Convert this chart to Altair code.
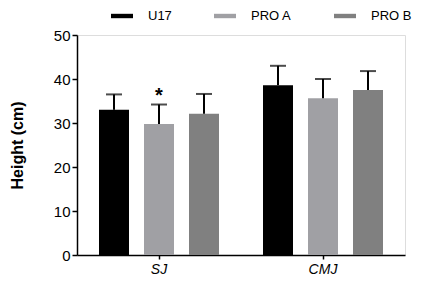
import altair as alt
import pandas as pd

groups = ["SJ", "CMJ"]
series = ["U17", "PRO A", "PRO B"]
colors = ["#000000", "#A0A0A4", "#808080"]
means_sj = [33.0, 29.8, 32.1]
sds_sj = [3.5, 4.4, 4.5]
means_cmj = [38.6, 35.6, 37.5]
sds_cmj = [4.4, 4.4, 4.3]
sig_group = ["SJ"]
sig_series = ["PRO A"]

rows = []
for g, ms, ss in [("SJ", means_sj, sds_sj), ("CMJ", means_cmj, sds_cmj)]:
    for s, m, sd in zip(series, ms, ss):
        rows.append({"group": g, "series": s, "mean": m, "top": m + sd})
df = pd.DataFrame(rows)
sig = df[df["group"].isin(sig_group) & df["series"].isin(sig_series)].copy()
sig["label"] = "*"

font = "Liberation Sans"

x = alt.X("group:N", sort=groups, title=None,
          scale=alt.Scale(paddingInner=0, paddingOuter=0),
          axis=alt.Axis(labelAngle=0, labelFontStyle="italic", labelFontSize=14,
                        labelFont=font, labelColor="#000000", tickSize=4,
                        tickColor="#000000", tickWidth=1.5, domainColor="#000000",
                        domainWidth=1.5, labelPadding=3))
xo = alt.XOffset("series:N", sort=series,
                 scale=alt.Scale(paddingInner=1/3, paddingOuter=0.489))

bars = alt.Chart(df).mark_bar().encode(
    x=x, xOffset=xo,
    y=alt.Y("mean:Q", scale=alt.Scale(domain=[0, 50], nice=False),
            axis=alt.Axis(values=[0, 10, 20, 30, 40, 50], title="Height (cm)",
                          titleFont=font, titleFontSize=16, titleFontWeight="bold",
                          titleColor="#000000", titleAngle=270, titleBaseline="middle",
                          titleAlign="center", titleX=-60, titleY=110,
                          labelFont=font, labelFontSize=15, labelColor="#000000",
                          tickSize=5, tickColor="#000000", tickWidth=1.5,
                          domainColor="#000000", domainWidth=1.5, labelPadding=2,
                          grid=False)),
    color=alt.Color("series:N", sort=series,
                    scale=alt.Scale(domain=series, range=colors),
                    legend=alt.Legend(title=None, orient="none", direction="horizontal",
                                      legendX=34, legendY=-30, padding=0,
                                      symbolType="M-1,-0.2H1V0.2H-1Z", symbolSize=484,
                                      symbolStrokeWidth=0, labelOffset=15,
                                      columnPadding=42, labelFont=font,
                                      labelFontSize=13, labelColor="#000000")),
)

stems = alt.Chart(df).mark_rule(color="#000000", strokeWidth=2).encode(
    x=x, xOffset=xo, y="mean:Q", y2="top:Q")
caps = alt.Chart(df).mark_tick(color="#000000", thickness=2, size=16).encode(
    x=x, xOffset=xo, y="top:Q")
star = alt.Chart(sig).mark_text(font=font, fontSize=20, fontWeight="bold",
                                color="#000000", baseline="middle", dy=-9).encode(
    x=x, xOffset=xo, y="top:Q", text="label:N")

chart = alt.layer(bars, stems, caps, star).properties(
    width=328, height=220,
    autosize=alt.AutoSizeParams(type="none"),
    padding={"left": 69, "top": 27, "right": 33, "bottom": 25},
).configure_view(stroke=None).configure(background="#ffffff")

chart.save("out.html", embed_options={"renderer": "svg", "actions": False})
